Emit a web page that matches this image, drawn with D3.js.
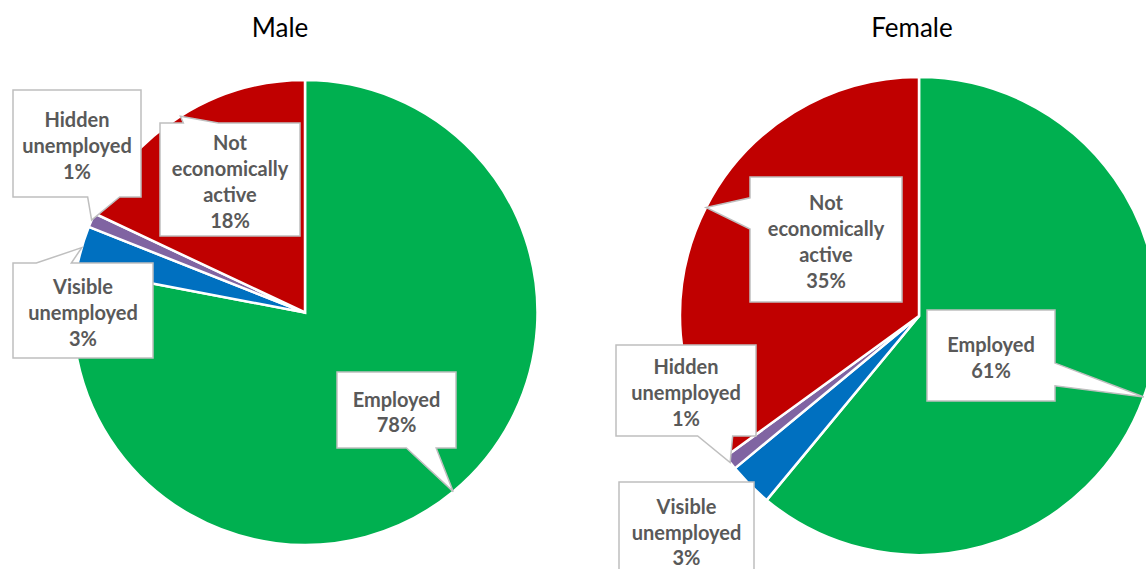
<!DOCTYPE html>
<html>
<head>
<meta charset="utf-8">
<script src="https://cdn.jsdelivr.net/npm/d3@7"></script>
<style>
  html, body { margin: 0; padding: 0; background: #ffffff; }
  svg { display: block; }
</style>
</head>
<body>
<svg id="chart" width="1146" height="569"></svg>
<script>
// Labour force status by sex (shares of population, %)
const categories = ["Employed", "Visible unemployed", "Hidden unemployed", "Not economically active"];
const maleValues = [78, 3, 1, 18];
const femaleValues = [61, 3, 1, 35];
const panelTitles = ["Male", "Female"];
const sliceColors = ["#00B050", "#0070C0", "#8064A2", "#C00000"];

// Pie placement and label box layout for each panel
const panels = [
  {
    title: panelTitles[0], values: maleValues,
    cx: 305, cy: 312.5, r: 232.5, titleX: 280,
    boxes: [
      { x: 337, y: 372, w: 119, h: 76 },
      { x: 13,  y: 263, w: 140, h: 95 },
      { x: 13,  y: 90,  w: 128, h: 107 },
      { x: 160, y: 123, w: 140, h: 113 }
    ]
  },
  {
    title: panelTitles[1], values: femaleValues,
    cx: 919, cy: 316, r: 239, titleX: 912,
    boxes: [
      { x: 927, y: 310, w: 128, h: 91 },
      { x: 619, y: 482, w: 135, h: 96 },
      { x: 616, y: 345, w: 140, h: 91 },
      { x: 750, y: 177, w: 152, h: 125 }
    ]
  }
];

const svg = d3.select("#chart");
const pie = d3.pie().sort(null).value(d => d).startAngle(0).endAngle(2 * Math.PI);
const labelFont = "Lato, 'Open Sans', sans-serif";
const lineGap = 25.8;

// Rectangular callout with a wedge pointing at (tx, ty)
function calloutPath(b, tx, ty) {
  const { x, y, w, h } = b;
  const cx = x + w / 2, cy = y + h / 2;
  const dx = tx - cx, dy = ty - cy;
  const inside = tx >= x && tx <= x + w && ty >= y && ty <= y + h;
  const p = d3.path();
  if (inside) {
    p.rect(x, y, w, h);
    return p.toString();
  }
  const vertical = Math.abs(dy) >= Math.abs(dx) * h / w;
  let side, a, c;
  if (vertical) {
    side = dy < 0 ? "top" : "bottom";
    [a, c] = dx < 0 ? [2 / 12, 5 / 12] : [7 / 12, 10 / 12];
  } else {
    side = dx < 0 ? "left" : "right";
    [a, c] = dy < 0 ? [2 / 12, 5 / 12] : [7 / 12, 10 / 12];
  }
  p.moveTo(x, y);
  if (side === "top") { p.lineTo(x + w * a, y); p.lineTo(tx, ty); p.lineTo(x + w * c, y); }
  p.lineTo(x + w, y);
  if (side === "right") { p.lineTo(x + w, y + h * a); p.lineTo(tx, ty); p.lineTo(x + w, y + h * c); }
  p.lineTo(x + w, y + h);
  if (side === "bottom") { p.lineTo(x + w * c, y + h); p.lineTo(tx, ty); p.lineTo(x + w * a, y + h); }
  p.lineTo(x, y + h);
  if (side === "left") { p.lineTo(x, y + h * c); p.lineTo(tx, ty); p.lineTo(x, y + h * a); }
  p.closePath();
  return p.toString();
}

panels.forEach(panel => {
  const g = svg.append("g");

  g.append("text")
    .attr("x", panel.titleX)
    .attr("y", 37)
    .attr("text-anchor", "middle")
    .attr("font-family", labelFont)
    .attr("font-size", 26)
    .attr("fill", "#000000")
    .text(panel.title);

  const arcs = pie(panel.values);
  const arc = d3.arc().innerRadius(0).outerRadius(panel.r);

  g.append("g")
    .attr("transform", `translate(${panel.cx},${panel.cy})`)
    .selectAll("path")
    .data(arcs)
    .join("path")
    .attr("d", arc)
    .attr("fill", (d, i) => sliceColors[i])
    .attr("stroke", "#ffffff")
    .attr("stroke-width", 2.5)
    .attr("stroke-linejoin", "miter");

  const labels = g.append("g");
  arcs.forEach((d, i) => {
    const mid = (d.startAngle + d.endAngle) / 2;
    const tx = panel.cx + panel.r * Math.sin(mid);
    const ty = panel.cy - panel.r * Math.cos(mid);
    const b = panel.boxes[i];

    labels.append("path")
      .attr("d", calloutPath(b, tx, ty))
      .attr("fill", "#ffffff")
      .attr("stroke", "#BFBFBF")
      .attr("stroke-width", 1.5);

    const lines = categories[i].split(" ").concat([d.data + "%"]);
    const firstY = b.y + b.h / 2 + 1.5 - (lines.length - 1) * lineGap / 2;
    const t = labels.append("text")
      .attr("text-anchor", "middle")
      .attr("font-family", labelFont)
      .attr("font-weight", "bold")
      .attr("font-size", 20)
      .attr("fill", "#595959");
    lines.forEach((ln, k) => {
      t.append("tspan")
        .attr("x", b.x + b.w / 2)
        .attr("y", firstY + k * lineGap)
        .attr("dominant-baseline", "central")
        .text(ln);
    });
  });
});
</script>
</body>
</html>
